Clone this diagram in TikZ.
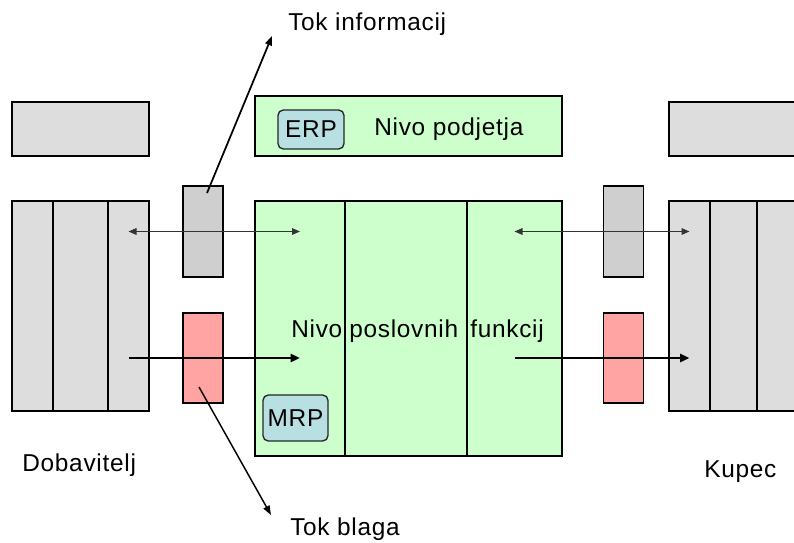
\documentclass[tikz,border=0pt]{standalone}
\usepackage{fontspec}
\setmainfont{Liberation Sans}[LetterSpace=3]
\usetikzlibrary{arrows.meta, positioning}
\definecolor{boxGrey}{HTML}{DDDDDD}
\definecolor{tabGrey}{HTML}{CFCFCF}
\definecolor{levelGreen}{HTML}{CCFFCC}
\definecolor{goodsRed}{HTML}{FFA3A3}
\definecolor{sysBlue}{HTML}{B8E0E3}
\tikzset{
  cell/.style      = {draw=black, line width=1.3pt, outer sep=0pt, inner sep=0pt},
  partner/.style   = {cell, fill=boxGrey},
  level/.style     = {cell, fill=levelGreen},
  infotab/.style   = {cell, fill=tabGrey, minimum width=30pt, minimum height=68.25pt},
  goodstab/.style  = {cell, fill=goodsRed, minimum width=30pt, minimum height=67.5pt},
  sysbox/.style    = {draw=black!85, line width=1pt, fill=sysBlue, rounded corners=4pt},
  lbl/.style       = {font=\fontsize{18.3}{21}\selectfont, inner sep=0pt},
  infoflow/.style  = {{Triangle[length=6pt,width=5pt]}-{Triangle[length=6pt,width=5pt]},
                      line width=0.8pt, black!80},
  goodsflow/.style = {-{Triangle[length=7pt,width=6pt]}, line width=2.2pt},
  pointer/.style   = {-{Triangle[length=7pt,width=5pt]}, line width=1.3pt},
}

\begin{document}
\begin{tikzpicture}[x=0.75pt, y=-0.75pt, node distance=0pt]
  \path[use as bounding box, clip] (0,0) rectangle (794,543);

  % enterprise level
  \node[partner, minimum width=102.75pt, minimum height=40.5pt] (topL) at (80.5,129) {};
  \node[partner, minimum width=113.25pt, minimum height=40.5pt] (topR) at (744.5,129) {};
  \node[level, minimum width=230.25pt, minimum height=45pt] (podjetje) at (408.5,126) {};
  \node[sysbox, lbl, minimum width=49.5pt, minimum height=29.25pt] (erp) at (311,129.5) {ERP};
  \node[lbl, anchor=base west] (podjetjeLbl) at (374,135) {Nivo podjetja};

  % supplier
  \node[partner, minimum width=30.75pt, minimum height=157.5pt] (dob1) at (32.5,306) {};
  \node[partner, minimum width=41.25pt, minimum height=157.5pt, right=of dob1] (dob2) {};
  \node[partner, minimum width=30.75pt, minimum height=157.5pt, right=of dob2] (dob3) {};

  % business functions
  \node[level, minimum width=67.5pt, minimum height=191.25pt] (fun1) at (300,328.5) {};
  \node[level, minimum width=91.5pt, minimum height=191.25pt, right=of fun1] (fun2) {};
  \node[level, minimum width=71.25pt, minimum height=191.25pt, right=of fun2] (fun3) {};
  \node[sysbox, lbl, minimum width=48.75pt, minimum height=34.5pt] (mrp) at (295.5,418) {MRP};
  \node[lbl, anchor=base west] (nivo) at (291,337) {Nivo};
  \node[lbl, anchor=base west] (poslovnih) at (349,337) {poslovnih};
  \node[lbl, anchor=base west] (funkcij) at (470,337) {funkcij};

  % customer
  \node[partner, minimum width=30.75pt, minimum height=157.5pt] (kup1) at (689.5,306) {};
  \node[partner, minimum width=35.25pt, minimum height=157.5pt, right=of kup1] (kup2) {};
  \node[partner, minimum width=39.75pt, minimum height=157.5pt, right=of kup2] (kup3) {};

  % flows between the parties
  \node[infotab] (infoL) at (203,231.5) {};
  \node[infotab] (infoR) at (623.5,231.5) {};
  \node[goodstab] (goodsL) at (203,358) {};
  \node[goodstab] (goodsR) at (623.5,358) {};

  \draw[infoflow] (dob3.center |- infoL.center) -- (fun1.center |- infoL.center);
  \draw[infoflow] (fun3.center |- infoR.center) -- (kup1.center |- infoR.center);
  \draw[goodsflow] (dob3.center |- goodsL.center) -- (fun1.center |- goodsL.center);
  \draw[goodsflow] (fun3.center |- goodsR.center) -- (kup1.center |- goodsR.center);

  \coordinate (infoEnd) at (272,36);
  \coordinate (goodsEnd) at (271,515);
  \draw[pointer] ([shift={(4,7)}]infoL.north) -- (infoEnd);
  \draw[pointer, line width=1.1pt] ([shift={(-4,29)}]goodsL.center) -- (goodsEnd);

  \node[lbl, anchor=base west] (infoLbl) at (288,30) {Tok informacij};
  \node[lbl, anchor=base west] (goodsLbl) at (290,535) {Tok blaga};
  \node[lbl, anchor=base west] (dobLbl) at (22,471) {Dobavitelj};
  \node[lbl, anchor=base west] (kupLbl) at (704,477) {Kupec};
\end{tikzpicture}
\end{document}
